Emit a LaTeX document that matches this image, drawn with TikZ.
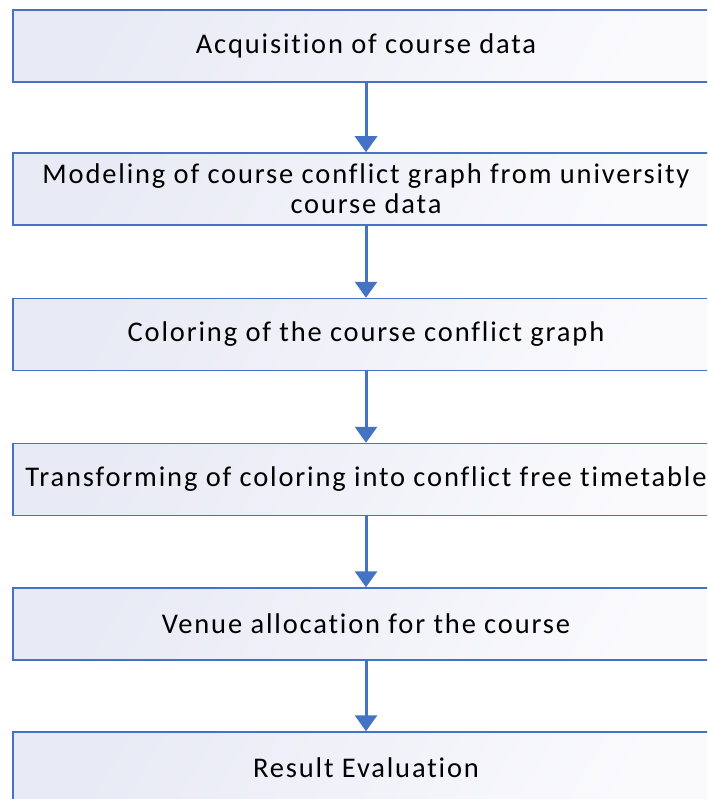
\documentclass[tikz,border=0pt]{standalone}
\usepackage{fontspec}
\setmainfont{Carlito}[Ligatures=NoCommon]
\usetikzlibrary{arrows.meta}
\definecolor{edgeblue}{HTML}{4472C4}
\definecolor{fillA}{HTML}{E8EAF5}
\definecolor{fillB}{HTML}{FAFAFD}
\tikzset{
  stagebox/.style={draw=edgeblue, line width=1.5pt, left color=fillA, right color=fillB,
    shading angle=60, minimum width=706pt, minimum height=72pt, inner sep=0pt,
    align=center, font=\fontsize{28.5}{30}\selectfont\addfontfeature{LetterSpace=6.5},
    text=black},
  flowarrow/.style={draw=edgeblue, line width=3pt,
    -{Triangle[width=22pt,length=16pt]}, color=edgeblue}
}
\begin{document}
\begin{tikzpicture}[x=1pt,y=-1pt]
  \useasboundingbox (0,0) rectangle (707,799);
  \clip (0,0) rectangle (707,799);
  \node[stagebox] (s1) at (366,46) {Acquisition of course data};
  \node[stagebox] (s2) at (366,189) {Modeling of course conflict graph from university\\course data};
  \node[stagebox] (s3) at (366,334.5) {Coloring of the course conflict graph};
  \node[stagebox] (s4) at (366,479.5) {Transforming of coloring into conflict free timetable};
  \node[stagebox] (s5) at (366,624) {Venue allocation for the course};
  \node[stagebox] (s6) at (366,768) {Result Evaluation};
  \draw[flowarrow] (s1.south) -- (s2.north);
  \draw[flowarrow] (s2.south) -- (s3.north);
  \draw[flowarrow] (s3.south) -- (s4.north);
  \draw[flowarrow] (s4.south) -- (s5.north);
  \draw[flowarrow] (s5.south) -- (s6.north);
\end{tikzpicture}
\end{document}
